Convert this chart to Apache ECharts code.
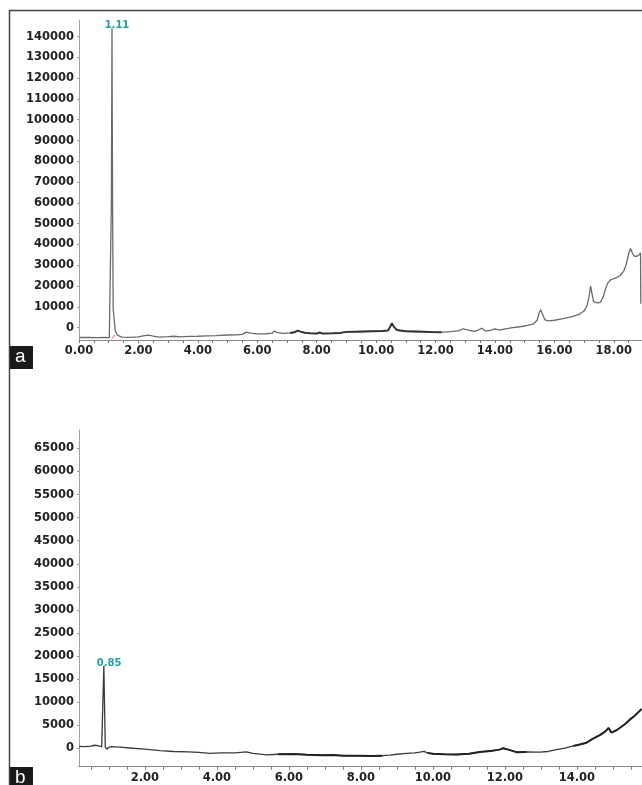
<!DOCTYPE html>
<html>
<head>
<meta charset="utf-8">
<script src="https://cdn.jsdelivr.net/npm/echarts@6/dist/echarts.min.js"></script>
<style>
  html, body { margin: 0; padding: 0; background: #fff; }
  #chart { width: 642px; height: 785px; }
</style>
</head>
<body>
<div id="chart"></div>
<script>
// panel a: retention time (min) / abundance
const aTime = [0.02, 0.3, 0.6, 0.9, 1.02, 1.06, 1.09, 1.11, 1.13, 1.15, 1.18, 1.22, 1.3, 1.45, 1.7, 2.0, 2.2, 2.35, 2.5, 2.7,
  3.0, 3.2, 3.4, 3.7, 4.0, 4.3, 4.6, 5.0, 5.3, 5.5, 5.62, 5.68, 5.78, 6.0, 6.3, 6.5, 6.58, 6.68, 6.9, 7.1,
  7.25, 7.36, 7.45, 7.6, 7.8, 8.0, 8.1, 8.2, 8.5, 8.8, 9.0, 9.3, 9.6, 9.9, 10.2, 10.4, 10.48, 10.53, 10.6, 10.7,
  11.0, 11.3, 11.6, 11.9, 12.2, 12.5, 12.8, 12.93, 13.1, 13.3, 13.45, 13.56, 13.68, 13.85, 14.0, 14.15, 14.35, 14.6, 14.9, 15.1,
  15.3, 15.42, 15.5, 15.54, 15.6, 15.68, 15.8, 16.0, 16.3, 16.6, 16.85, 17.0, 17.1, 17.17, 17.22, 17.27, 17.32, 17.45, 17.55, 17.65,
  17.72, 17.8, 17.9, 18.05, 18.2, 18.33, 18.42, 18.5, 18.56, 18.62, 18.68, 18.78, 18.86, 18.9, 18.91];
const aSignal = [-4800, -4700, -4900, -4700, -4900, -4600, 60000, 144000, 60000, 9000, 4600, -1500, -3800, -4600, -4700, -4500, -3900, -3700, -4100, -4600,
  -4400, -4200, -4500, -4300, -4200, -4000, -3900, -3600, -3500, -3300, -2200, -1800, -2700, -3100, -3000, -2700, -1700, -2500, -2800, -2600,
  -2300, -1500, -2000, -2500, -2800, -2900, -2400, -2900, -2800, -2600, -2100, -2000, -1900, -1800, -1700, -1400, 500, 2100, 300, -1200,
  -1800, -1900, -2000, -2200, -2300, -2000, -1500, -600, -1200, -1900, -1200, -300, -1700, -1400, -600, -1200, -600, 0, 500, 1000,
  1800, 3500, 7500, 8500, 6500, 3700, 3200, 3500, 4300, 5300, 6500, 8000, 10500, 15000, 20000, 16000, 12500, 11800, 12200, 15000,
  18500, 21500, 23000, 23800, 24800, 27000, 30500, 35500, 38100, 36000, 34400, 34300, 35000, 36000, 11500];

// panel b
const bTime = [0.17, 0.35, 0.5, 0.6, 0.7, 0.8, 0.84, 0.86, 0.88, 0.9, 0.94, 1.0, 1.07, 1.3, 1.67, 2.0, 2.42, 2.8, 3.2, 3.5,
  3.8, 4.1, 4.5, 4.82, 5.0, 5.38, 5.7, 6.12, 6.5, 6.9, 7.2, 7.51, 7.97, 8.3, 8.6, 8.81, 9.0, 9.27, 9.5, 9.64,
  9.75, 9.85, 10.0, 10.3, 10.66, 11.0, 11.3, 11.6, 11.85, 11.95, 12.1, 12.32, 12.6, 12.97, 13.2, 13.44, 13.7, 13.9, 14.08, 14.27,
  14.45, 14.65, 14.8, 14.88, 14.96, 15.1, 15.19, 15.35, 15.47, 15.6, 15.8];
const bSignal = [400, 350, 450, 650, 550, 300, 500, 17900, 17900, 300, -200, 200, 350, 250, 0, -200, -500, -700, -800, -900,
  -1100, -1000, -1000, -800, -1100, -1450, -1300, -1250, -1400, -1500, -1450, -1600, -1650, -1700, -1600, -1500, -1300, -1100, -1000, -850,
  -700, -1000, -1200, -1300, -1350, -1200, -800, -600, -300, 0, -300, -850, -800, -850, -700, -300, 100, 500, 800, 1200,
  2100, 2900, 3700, 4400, 3400, 3900, 4400, 5300, 6200, 7000, 8500];

// tick labels
const aXLabels = [0, 2, 4, 6, 8, 10, 12, 14, 16, 18];
const aYLabels = [0, 10000, 20000, 30000, 40000, 50000, 60000, 70000, 80000, 90000, 100000, 110000, 120000, 130000, 140000];
const bXLabels = [2, 4, 6, 8, 10, 12, 14];
const bYLabels = [0, 5000, 10000, 15000, 20000, 25000, 30000, 35000, 40000, 45000, 50000, 55000, 60000, 65000];

// peak annotations
const aPeak = [1.11, 144000, '1.11'];
const bPeak = [0.87, 17900, '0.85'];

// noisy (thick) stretches of the trace
const aNoisy = [[7.0, 12.3]];
const bNoisy = [[5.5, 8.7], [9.8, 12.6], [13.9, 15.8]];

const teal = '#21a0a0';
const labelFont = 'DejaVu Sans';

function pairs(t, s) { return t.map((x, i) => [x, s[i]]); }
function pick(t, s, ranges) {
  return ranges.map(r => pairs(t, s).filter(p => p[0] >= r[0] && p[0] <= r[1]));
}
function halfSteps(from, to) {
  const out = [];
  for (let v = from; v <= to + 1e-9; v += 0.5) out.push(+v.toFixed(2));
  return out;
}

function xAxisCfg(grid, min, max, labels) {
  return {
    type: 'value', gridIndex: grid, min: min, max: max,
    axisLine: { onZero: false, lineStyle: { color: '#8a8a8a', width: 1 } },
    axisTick: { customValues: halfSteps(Math.ceil(min * 2) / 2, max), length: 3, lineStyle: { color: '#777' } },
    axisLabel: {
      customValues: labels, margin: 5, color: '#222', fontSize: 11.5, fontWeight: 'bold', fontFamily: labelFont,
      formatter: v => v.toFixed(2)
    },
    splitLine: { show: false }
  };
}
function yAxisCfg(grid, min, max, labels) {
  return {
    type: 'value', gridIndex: grid, min: min, max: max,
    axisLine: { show: true, lineStyle: { color: '#a0a0a0', width: 1 } },
    axisTick: { show: true, customValues: labels, length: 2, lineStyle: { color: '#999' } },
    axisLabel: {
      customValues: labels, margin: 5, color: '#222', fontSize: 11.5, fontWeight: 'bold', fontFamily: labelFont,
      formatter: v => String(v)
    },
    splitLine: { show: false }
  };
}
function peakMark(p) {
  return {
    symbol: 'circle', symbolSize: 1, itemStyle: { color: 'rgba(0,0,0,0)' },
    label: { show: true, formatter: p[2], position: 'top', distance: 0, offset: [5, 3], color: teal, fontSize: 10, fontWeight: 'bold', fontFamily: labelFont },
    data: [{ coord: [p[0], p[1]] }]
  };
}

const series = [
  {
    type: 'line', xAxisIndex: 0, yAxisIndex: 0, data: pairs(aTime, aSignal), showSymbol: false,
    lineStyle: { color: '#6a6a6a', width: 1.3 }, markPoint: peakMark(aPeak)
  },
  {
    type: 'line', xAxisIndex: 1, yAxisIndex: 1, data: pairs(bTime, bSignal), showSymbol: false,
    lineStyle: { color: '#3a3a3a', width: 1.3 }, markPoint: peakMark(bPeak)
  },
  // small red integration mark at the base of the first peak
  {
    type: 'line', xAxisIndex: 0, yAxisIndex: 0, data: [[1.12, -5200], [1.16, -4300], [1.2, -3600]], showSymbol: false,
    lineStyle: { color: '#e05050', width: 1 }
  }
];
pick(aTime, aSignal, aNoisy).forEach(d => series.push({
  type: 'line', xAxisIndex: 0, yAxisIndex: 0, data: d, showSymbol: false, lineStyle: { color: '#333', width: 1.9 }
}));
pick(bTime, bSignal, bNoisy).forEach(d => series.push({
  type: 'line', xAxisIndex: 1, yAxisIndex: 1, data: d, showSymbol: false, lineStyle: { color: '#222', width: 2 }
}));

function tag(letter, y, h) {
  return [
    { type: 'rect', left: 10, top: y, shape: { width: 23, height: h }, style: { fill: '#1a1a1a' } },
    { type: 'text', left: 15, top: y + 1, style: { text: letter, fill: '#fff', font: '19px "Liberation Sans", Arial, sans-serif' } }
  ];
}

const chart = echarts.init(document.getElementById('chart'));
chart.setOption({
  animation: false,
  grid: [
    { left: 79, top: 20, width: 563, height: 320 },
    { left: 79, top: 430, width: 563, height: 336.7 }
  ],
  xAxis: [
    xAxisCfg(0, 0, 18.95, aXLabels),
    xAxisCfg(1, 0.17, 15.81, bXLabels)
  ],
  yAxis: [
    yAxisCfg(0, -6000, 148000, aYLabels),
    yAxisCfg(1, -4000, 69000, bYLabels)
  ],
  series: series,
  graphic: [
    { type: 'line', shape: { x1: 9.5, y1: 10, x2: 9.5, y2: 785 }, style: { stroke: '#444', lineWidth: 1.5 } },
    { type: 'line', shape: { x1: 9, y1: 10.5, x2: 642, y2: 10.5 }, style: { stroke: '#444', lineWidth: 1.5 } },
    ...tag('a', 346, 23),
    ...tag('b', 767, 20)
  ]
});
</script>
</body>
</html>
